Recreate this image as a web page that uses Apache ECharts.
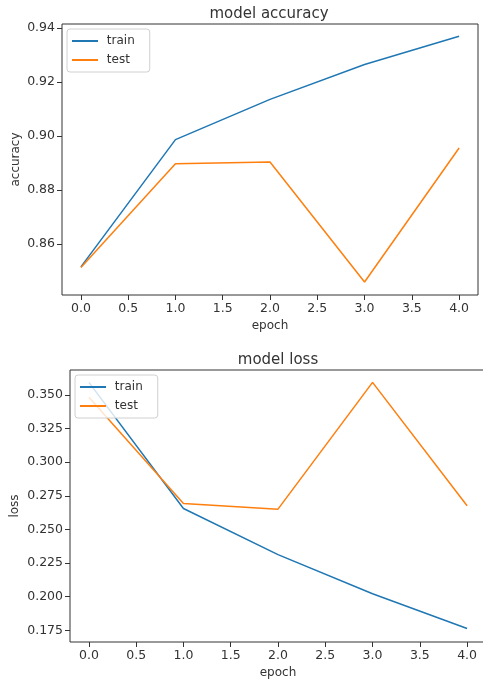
<!DOCTYPE html>
<html>
<head>
<meta charset="utf-8">
<script src="https://cdn.jsdelivr.net/npm/echarts@6/dist/echarts.min.js"></script>
<style>html,body{margin:0;padding:0;background:#fff;}#c{width:483px;height:686px;}</style>
</head>
<body>
<div id="c"></div>
<script>
var epochs = [0, 1, 2, 3, 4];
var accTrain = [0.8516, 0.8987, 0.9136, 0.9265, 0.9370];
var accTest  = [0.8514, 0.8898, 0.8904, 0.8460, 0.8956];
var lossTrain = [0.3594, 0.2656, 0.2313, 0.2022, 0.1763];
var lossTest  = [0.3483, 0.2693, 0.2651, 0.3594, 0.2676];
var xTicks = [0, 0.5, 1, 1.5, 2, 2.5, 3, 3.5, 4];
var accTicks = [0.86, 0.88, 0.90, 0.92, 0.94];
var lossTicks = [0.175, 0.200, 0.225, 0.250, 0.275, 0.300, 0.325, 0.350];

function pairs(xs, ys) { return xs.map(function (x, i) { return [x, ys[i]]; }); }

var FONT = 'DejaVu Sans';
var TXT = '#333333';
var BLUE = '#1f77b4', ORANGE = '#ff7f0e';
var TICKFS = 12.5;

function xAxis(gi) {
  return {
    type: 'value', gridIndex: gi, min: -0.2, max: 4.2,
    name: 'epoch', nameLocation: 'middle', nameGap: 25, nameMoveOverlap: false,
    nameTextStyle: {fontFamily: FONT, fontSize: 12, color: TXT},
    splitLine: {show: false},
    axisLine: {show: false, onZero: false},
    axisTick: {show: true, customValues: xTicks, length: 5, inside: false, lineStyle: {color: '#333'}},
    axisLabel: {customValues: xTicks, formatter: function (v) { return v.toFixed(1); },
      fontFamily: FONT, fontSize: TICKFS, color: TXT, margin: 7}
  };
}
function yAxis(gi, min, max, ticks, dec, name, gap) {
  return {
    type: 'value', gridIndex: gi, min: min, max: max,
    name: name, nameLocation: 'middle', nameGap: gap, nameMoveOverlap: false,
    nameTextStyle: {fontFamily: FONT, fontSize: 12, color: TXT},
    splitLine: {show: false},
    axisLine: {show: false, onZero: false},
    axisTick: {show: true, customValues: ticks, length: 5, lineStyle: {color: '#333'}},
    axisLabel: {customValues: ticks, formatter: function (v) { return v.toFixed(dec); },
      fontFamily: FONT, fontSize: TICKFS, color: TXT, margin: 7}
  };
}
function legend(left, top) {
  return {
    orient: 'vertical', left: left, top: top,
    data: ['train', 'test'], icon: 'rect', itemWidth: 26, itemHeight: 2, itemGap: 5,
    padding: [5, 15, 5, 5],
    formatter: function (n) { return ' ' + n; },
    borderColor: '#d0d0d0', borderWidth: 1, borderRadius: 3,
    backgroundColor: 'rgba(255,255,255,0.8)',
    textStyle: {fontFamily: FONT, fontSize: 12, color: TXT, lineHeight: 14},
    selectedMode: false
  };
}
function line(name, data, color, xi, yi) {
  return {
    type: 'line', name: name, data: data, xAxisIndex: xi, yAxisIndex: yi,
    symbol: 'none', lineStyle: {color: color, width: 1.5}, itemStyle: {color: color},
    animation: false, z: 2
  };
}

var chart = echarts.init(document.getElementById('c'), null, {renderer: 'canvas'});
chart.setOption({
  animation: false,
  backgroundColor: '#fff',
  title: [
    {text: 'model accuracy', left: 264, top: 2, textAlign: 'center',
      textStyle: {fontFamily: FONT, fontSize: 15, fontWeight: 'normal', color: TXT}},
    {text: 'model loss', left: 273, top: 348, textAlign: 'center',
      textStyle: {fontFamily: FONT, fontSize: 15, fontWeight: 'normal', color: TXT}}
  ],
  grid: [
    {left: 62, top: 24, width: 416, height: 271, outerBoundsMode: 'none', containLabel: false,
      show: true, borderColor: '#333', borderWidth: 1, backgroundColor: 'transparent'},
    {left: 70, top: 370, width: 416, height: 272, outerBoundsMode: 'none', containLabel: false,
      show: true, borderColor: '#333', borderWidth: 1, backgroundColor: 'transparent'}
  ],
  legend: [legend(67, 29), legend(75, 375)],
  xAxis: [xAxis(0), xAxis(1)],
  yAxis: [
    yAxis(0, 0.8412, 0.9415, accTicks, 2, 'accuracy', 40),
    yAxis(1, 0.1663, 0.3686, lossTicks, 3, 'loss', 49)
  ],
  series: [
    line('train', pairs(epochs, accTrain), BLUE, 0, 0),
    line('test', pairs(epochs, accTest), ORANGE, 0, 0),
    line('train', pairs(epochs, lossTrain), BLUE, 1, 1),
    line('test', pairs(epochs, lossTest), ORANGE, 1, 1)
  ]
});
</script>
</body>
</html>
